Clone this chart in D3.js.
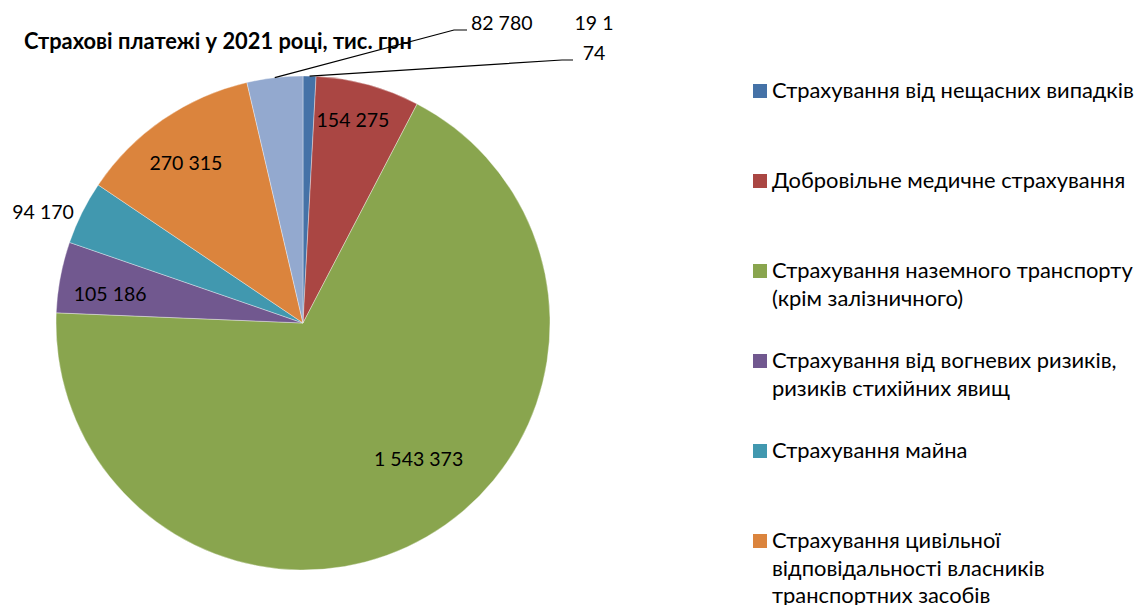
<!DOCTYPE html>
<html>
<head>
<meta charset="utf-8">
<script src="https://cdn.jsdelivr.net/npm/d3@7"></script>
<style>
  html, body { margin: 0; padding: 0; background: #fff; }
  svg { display: block; }
  text { font-family: Lato, "Open Sans", sans-serif; fill: #000; }
</style>
</head>
<body>
<svg id="chart" width="1137" height="605"></svg>
<script>
const title = "Страхові платежі у 2021 році, тис. грн";
const categories = [
  "Страхування від нещасних випадків",
  "Добровільне медичне страхування",
  "Страхування наземного транспорту (крім залізничного)",
  "Страхування від вогневих ризиків, ризиків стихійних явищ",
  "Страхування майна",
  "Страхування цивільної відповідальності власників транспортних засобів",
  "Інші види страхування"
];
const legendLines = [
  ["Страхування від нещасних випадків"],
  ["Добровільне медичне страхування"],
  ["Страхування наземного транспорту", "(крім залізничного)"],
  ["Страхування від вогневих ризиків,", "ризиків стихійних явищ"],
  ["Страхування майна"],
  ["Страхування цивільної", "відповідальності власників", "транспортних засобів"],
  ["Інші види страхування"]
];
const values = [19174, 154275, 1543373, 105186, 94170, 270315, 82780];
const labelTexts = [["19 1", "74"], ["154 275"], ["1 543 373"], ["105 186"], ["94 170"], ["270 315"], ["82 780"]];
const colors = ["#4572A7", "#AA4643", "#89A54E", "#71588F", "#4198AF", "#DB843D", "#93A9CF"];

const svg = d3.select("#chart");
const cx = 303, cy = 323, R = 247;

const data = categories.map((c, i) => ({ cat: c, value: values[i], color: colors[i], label: labelTexts[i], legend: legendLines[i], i }));

const pie = d3.pie().value(d => d.value).sort(null).startAngle(0).endAngle(2 * Math.PI);
const arcs = pie(data);
const arc = d3.arc().innerRadius(0).outerRadius(R);

const g = svg.append("g").attr("transform", `translate(${cx},${cy})`);
g.selectAll("path.slice").data(arcs).join("path")
  .attr("class", "slice")
  .attr("d", arc)
  .attr("fill", d => d.data.color)
  .attr("stroke", "#ffffff")
  .attr("stroke-opacity", 0.6)
  .attr("stroke-width", 0.6);

const polar = (a, r) => [r * Math.sin(a), -r * Math.cos(a)];
const deg = Math.PI / 180;

const labelLayout = [
  { mode: "leader", r0: 1.0, elbow: [562 - cx, 60 - cy], end: [573 - cx, 60 - cy], tx: 594 - cx, ty: 30 - cy, anchor: "middle", lh: 30 },
  { mode: "inside", rf: 0.85, shift: -1.5 },
  { mode: "inside", rf: 0.72, shift: -10.5 },
  { mode: "inside", rf: 0.79, shift: -1.9 },
  { mode: "outside", rf: 1.145, shift: -3.3 },
  { mode: "inside", rf: 0.805, shift: -1.5 },
  { mode: "leader", r0: 1.0, elbow: [454 - cx, 30 - cy], end: [467 - cx, 30 - cy], tx: 471 - cx, ty: 30 - cy, anchor: "start", lh: 30 }
];

const labelSize = 19.5;
arcs.forEach((a, i) => {
  const L = labelLayout[i];
  const mid = (a.startAngle + a.endAngle) / 2;
  if (L.mode === "leader") {
    const p0 = polar(mid, R * L.r0);
    g.append("path")
      .attr("d", d3.line()([p0, L.elbow, L.end]))
      .attr("fill", "none").attr("stroke", "#000").attr("stroke-width", 1.2);
    const t = g.append("text")
      .attr("x", L.tx).attr("y", L.ty)
      .attr("text-anchor", L.anchor)
      .attr("font-size", labelSize);
    a.data.label.forEach((ln, k) => {
      t.append("tspan").attr("x", L.tx).attr("dy", k === 0 ? 0 : L.lh).text(ln);
    });
  } else {
    const p = polar(mid + L.shift * deg, R * L.rf);
    g.append("text")
      .attr("x", p[0]).attr("y", p[1])
      .attr("text-anchor", "middle")
      .attr("dominant-baseline", "central")
      .attr("font-size", labelSize)
      .text(a.data.label[0]);
  }
});

// fit a font size so that a text reaches a target width
function fitSize(sel, target) {
  const w = sel.node().getComputedTextLength();
  const fs = parseFloat(sel.attr("font-size"));
  return fs * target / w;
}

// title
const tt = svg.append("text")
  .attr("x", 24).attr("y", 49)
  .attr("font-size", 20)
  .attr("font-weight", "bold")
  .text(title);
tt.attr("font-size", fitSize(tt, 388));

// legend
const legendX = 753, legendTop = 84, legendStep = 90, lineH = 27.5;
const lg = svg.append("g");
const probe = lg.append("text").attr("font-size", 20).text(legendLines[0][0]);
const legendSize = fitSize(probe, 362);
probe.remove();
data.forEach((d, i) => {
  const y0 = legendTop + i * legendStep;
  lg.append("rect")
    .attr("x", legendX).attr("y", y0)
    .attr("width", 14).attr("height", 14)
    .attr("fill", d.color);
  const t = lg.append("text")
    .attr("x", legendX + 19).attr("y", y0 + 14)
    .attr("font-size", legendSize);
  d.legend.forEach((ln, k) => {
    t.append("tspan").attr("x", legendX + 19).attr("dy", k === 0 ? 0 : lineH).text(ln);
  });
});
</script>
</body>
</html>
